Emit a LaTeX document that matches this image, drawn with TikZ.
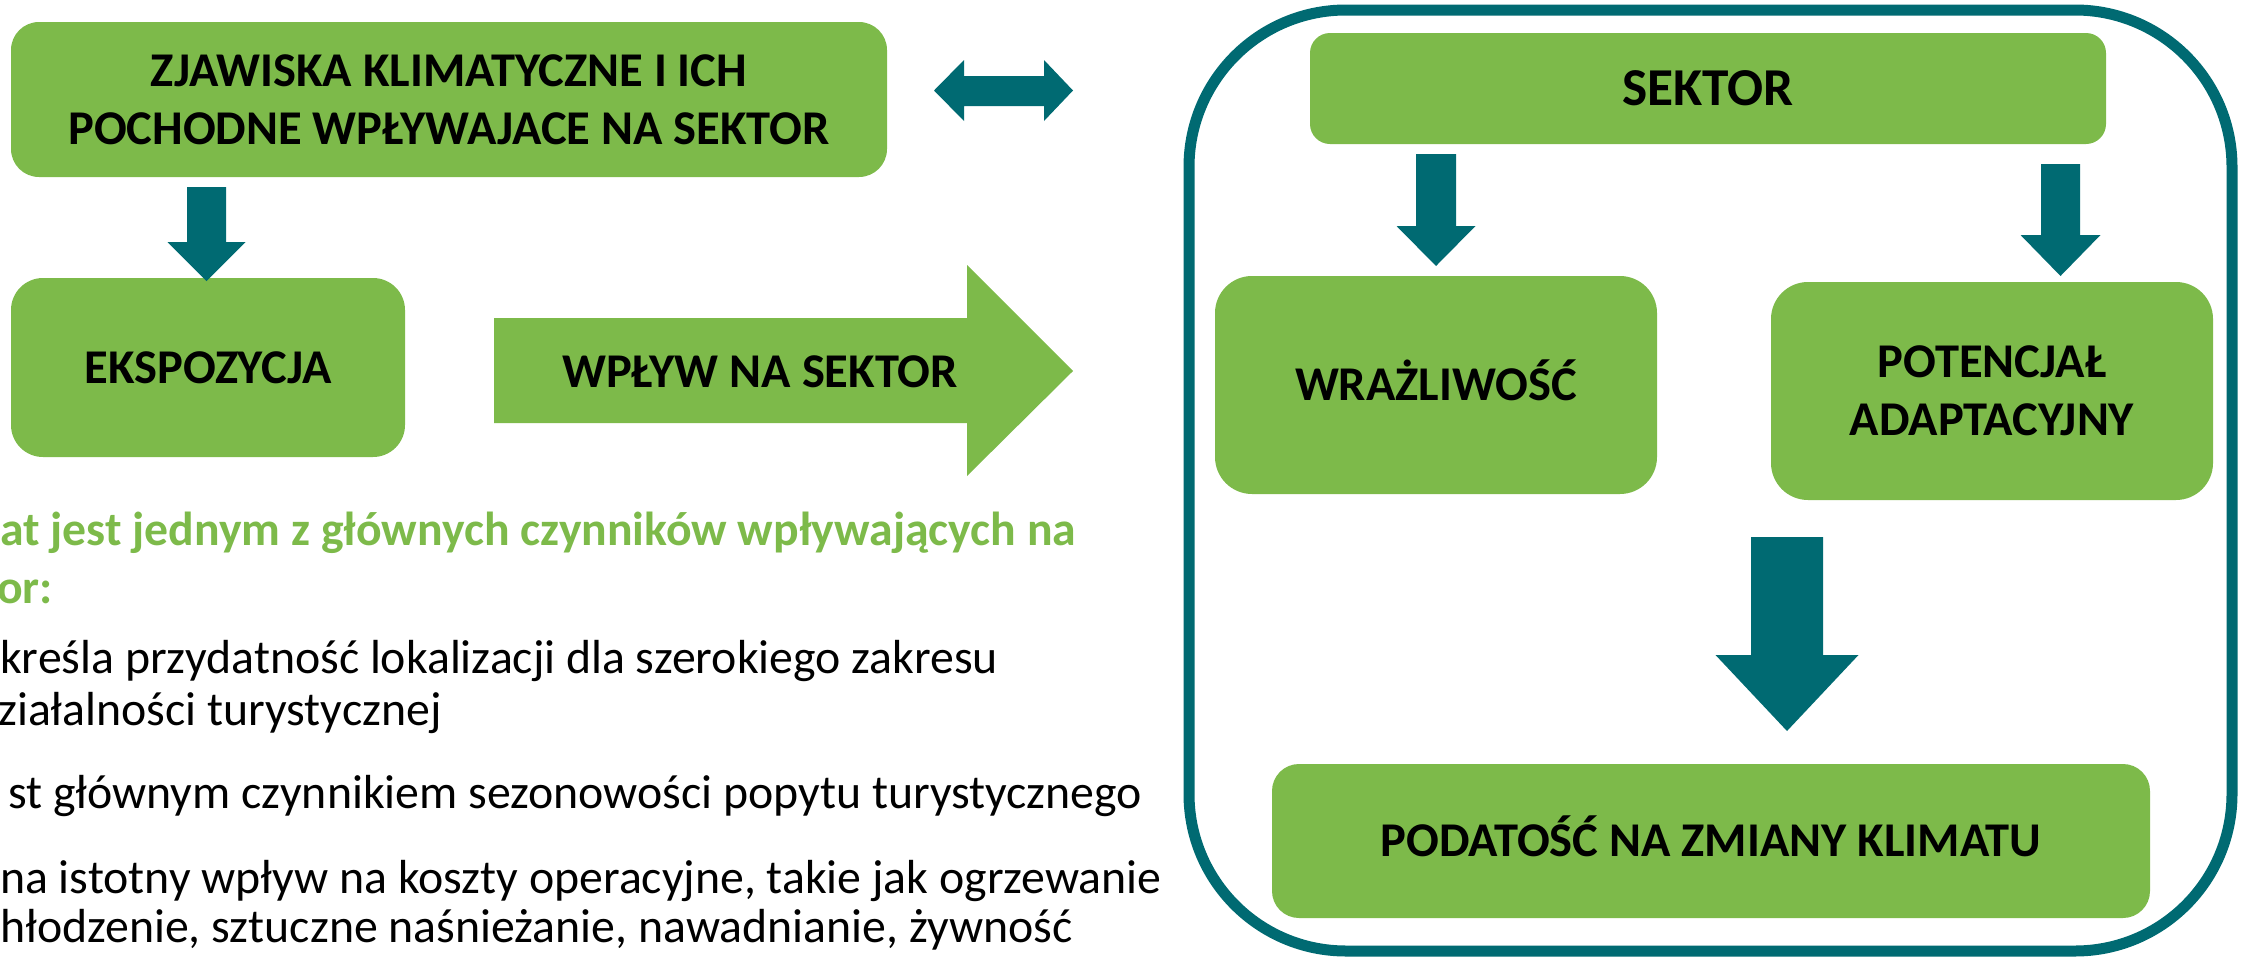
\documentclass[tikz,border=0pt]{standalone}
\usepackage{fontspec}
\setmainfont{Carlito}
\definecolor{boxgreen}{RGB}{125,186,74}
\definecolor{arrteal}{RGB}{0,106,114}
\newcommand{\downarr}[6]{% cx, ytop, ybase, ytip, shaft half, head half
  \fill[arrteal] ({#1-#5},#2) -- ({#1+#5},#2) -- ({#1+#5},#3) -- ({#1+#6},#3) -- (#1,#4) -- ({#1-#6},#3) -- ({#1-#5},#3) -- cycle;}
\begin{document}
\begin{tikzpicture}[x=1pt,y=-1pt,
  gbox/.style={fill=boxgreen, draw=none, inner sep=0pt, align=center,
    font=\fontsize{48.5}{58}\selectfont\bfseries, text=black},
  oneline/.style={text height=31pt, text depth=0pt},
  body/.style={font=\fontsize{47.8}{50}\selectfont, anchor=base west, inner sep=0pt, text=black},
  headtxt/.style={font=\fontsize{47.7}{58}\selectfont\bfseries, anchor=base west, inner sep=0pt, text=boxgreen}]
\useasboundingbox (0,0) rectangle (2241,956);

% left boxes
\node[gbox, minimum width=876pt, minimum height=155pt, rounded corners=28pt] (zj) at (449,99.5)
  {ZJAWISKA KLIMATYCZNE I ICH\\POCHODNE WPŁYWAJACE NA SEKTOR};
\node[gbox, oneline, minimum width=394pt, minimum height=179pt, rounded corners=32pt] (eks) at (208,367.5) {EKSPOZYCJA};

% down arrow zj -> eks
\downarr{206.5}{187}{242}{281}{19.5}{39}

% double arrow
\fill[arrteal] (934,90.5) -- (964,60) -- (964,76) -- (1044,76) -- (1044,60) -- (1073,90.5)
  -- (1044,121) -- (1044,106) -- (964,106) -- (964,121) -- cycle;

% big right arrow
\fill[boxgreen] (494,318) -- (967,318) -- (967,265) -- (1073,371) -- (967,476) -- (967,423) -- (494,423) -- cycle;
\node[font=\fontsize{48.5}{58}\selectfont\bfseries, text height=31pt, text depth=0pt, inner sep=0pt] (wp) at (760,372) {WPŁYW NA SEKTOR};

% frame
\node[draw=arrteal, line width=11pt, rounded corners=157pt, minimum width=1043pt, minimum height=941pt, inner sep=0pt] (frame) at (1710.5,480.5) {};

% right boxes
\node[gbox, oneline, minimum width=796pt, minimum height=111pt, rounded corners=20pt, font=\fontsize{53.3}{60}\selectfont\bfseries, text height=34pt] (sek) at (1708,88.5) {SEKTOR};
\node[gbox, oneline, minimum width=442pt, minimum height=218pt, rounded corners=37pt] (wra) at (1436,385) {WRAŻLIWOŚĆ};
\node[gbox, minimum width=442pt, minimum height=218pt, rounded corners=37pt] (pot) at (1992,391) {POTENCJAŁ\\ADAPTACYJNY};
\node[gbox, oneline, minimum width=878pt, minimum height=154pt, rounded corners=27pt] (pod) at (1711,841) {PODATOŚĆ NA ZMIANY KLIMATU};

\downarr{1436}{154}{226}{266}{20}{39.5}
\downarr{2060.5}{164}{235}{276}{19.5}{40}
\downarr{1787}{537}{655}{731}{36}{71.5}

% left text
\node[headtxt] (h1) at (0,545) {at jest jednym z głównych czynników wpływających na};
\node[headtxt] (h2) at (-3,603) {or:};
\node[body] (b1) at (0,673) {kreśla przydatność lokalizacji dla szerokiego zakresu};
\node[body] (b2) at (-2,725) {ziałalności turystycznej};
\node[body] (b3) at (8,808) {st głównym czynnikiem sezonowości popytu turystycznego};
\node[body] (b4) at (0,893) {na istotny wpływ na koszty operacyjne, takie jak ogrzewanie};
\node[body] (b5) at (0,942) {hłodzenie, sztuczne naśnieżanie, nawadnianie, żywność};
\end{tikzpicture}
\end{document}
